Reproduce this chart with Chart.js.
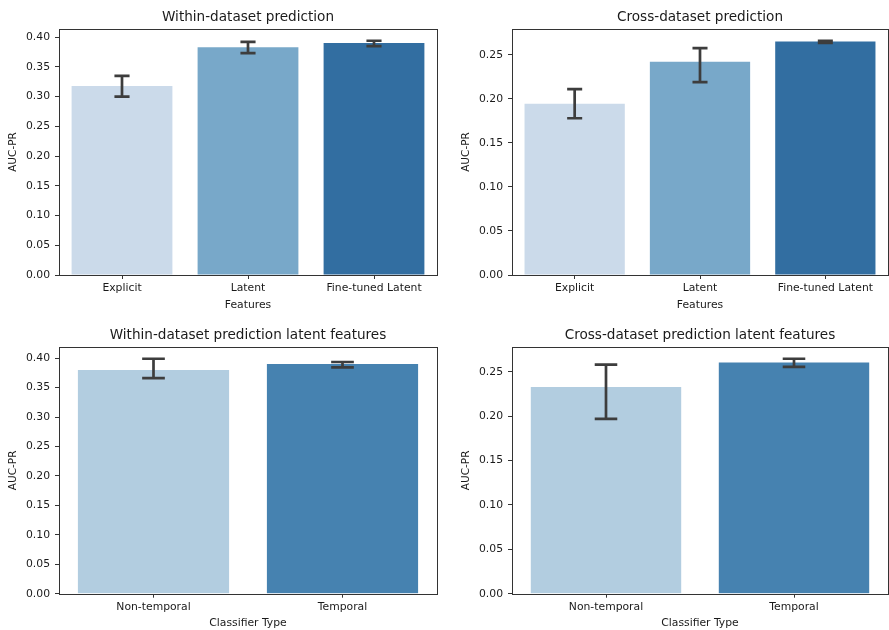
<!DOCTYPE html>
<html>
<head>
<meta charset="utf-8">
<script src="https://cdn.jsdelivr.net/npm/chart.js@4.4.1/dist/chart.umd.min.js"></script>
<style>
  html, body { margin: 0; padding: 0; background: #fff; }
  body { width: 889px; height: 630px; position: relative; overflow: hidden; }
  canvas { position: absolute; }
</style>
</head>
<body>
<canvas id="c1" width="444" height="320" style="left:0;top:0"></canvas>
<canvas id="c2" width="444" height="320" style="left:445px;top:0"></canvas>
<canvas id="c3" width="444" height="310" style="left:0;top:320px"></canvas>
<canvas id="c4" width="444" height="310" style="left:445px;top:320px"></canvas>
<script>
// categories
const featureCats = ['Explicit', 'Latent', 'Fine-tuned Latent'];
const typeCats = ['Non-temporal', 'Temporal'];

// within-dataset prediction
const withinMean = [0.318, 0.383, 0.390];
const withinLow  = [0.300, 0.373, 0.385];
const withinHigh = [0.335, 0.392, 0.394];

// cross-dataset prediction
const crossMean = [0.1945, 0.242, 0.265];
const crossLow  = [0.178, 0.219, 0.2635];
const crossHigh = [0.211, 0.2575, 0.266];

// within-dataset prediction latent features
const withinLatMean = [0.380, 0.390];
const withinLatLow  = [0.366, 0.3845];
const withinLatHigh = [0.399, 0.3935];

// cross-dataset prediction latent features
const crossLatMean = [0.233, 0.2605];
const crossLatLow  = [0.197, 0.2555];
const crossLatHigh = [0.258, 0.2647];

const tickStep = 0.05;

const blues3 = ['#cbdaea', '#78a8c9', '#326ea1'];
const blues2 = ['#b2cde0', '#4682b0'];

const FONT = 'DejaVu Sans';
const INK = '#333';
const TEXT = '#1a1a1a';

// error bars drawn from each dataset's low/high arrays
const errorBars = {
  id: 'errorBars',
  afterDatasetsDraw(chart) {
    const ctx = chart.ctx;
    const y = chart.scales.y;
    chart.data.datasets.forEach((ds, di) => {
      const meta = chart.getDatasetMeta(di);
      meta.data.forEach((bar, i) => {
        const top = y.getPixelForValue(ds.errHigh[i]);
        const bot = y.getPixelForValue(ds.errLow[i]);
        const half = bar.width * 0.075;
        ctx.save();
        ctx.strokeStyle = '#3d3d3d';
        ctx.lineWidth = 2.7;
        ctx.lineCap = 'butt';
        ctx.beginPath();
        ctx.moveTo(bar.x, top); ctx.lineTo(bar.x, bot);
        ctx.moveTo(bar.x - half, top); ctx.lineTo(bar.x + half, top);
        ctx.moveTo(bar.x - half, bot); ctx.lineTo(bar.x + half, bot);
        ctx.stroke();
        ctx.restore();
      });
    });
  }
};

// axes box like matplotlib spines
const frame = {
  id: 'frame',
  afterDraw(chart) {
    const a = chart.chartArea;
    const ctx = chart.ctx;
    ctx.save();
    ctx.strokeStyle = INK;
    ctx.lineWidth = 1;
    ctx.strokeRect(Math.round(a.left) + 0.5, Math.round(a.top) + 0.5,
      Math.round(a.right - a.left), Math.round(a.bottom - a.top));
    ctx.restore();
  }
};

function makeChart(id, o) {
  const yMax = Math.max(...o.high) * 1.05;
  return new Chart(document.getElementById(id), {
    type: 'bar',
    data: {
      labels: o.labels,
      datasets: [{
        data: o.mean,
        errLow: o.low,
        errHigh: o.high,
        backgroundColor: o.colors,
        borderWidth: 0,
        barPercentage: 0.8,
        categoryPercentage: 1.0
      }]
    },
    options: {
      responsive: false,
      animation: false,
      devicePixelRatio: 1,
      layout: { padding: { left: 0, right: o.padRight, top: 0, bottom: 0 } },
      plugins: {
        legend: { display: false },
        tooltip: { enabled: false },
        title: {
          display: true,
          text: o.title,
          fullSize: false,
          color: TEXT,
          font: { family: FONT, size: 13.6, weight: 'normal', lineHeight: 1.2 },
          padding: { top: o.titlePadTop, bottom: o.titlePadBottom }
        }
      },
      scales: {
        x: {
          offset: true,
          grid: { display: true, drawOnChartArea: false, drawTicks: true, tickLength: 4, color: INK, offset: false },
          border: { display: false },
          ticks: { color: TEXT, padding: 3, maxRotation: 0, font: { family: FONT, size: 10.8 } },
          title: {
            display: true,
            text: o.xTitle,
            color: TEXT,
            font: { family: FONT, size: 10.8, lineHeight: 1.2 },
            padding: { top: 0, bottom: o.xTitlePad }
          },
          afterFit(s) { s.height = o.xHeight; }
        },
        y: {
          min: 0,
          max: yMax,
          grid: { display: true, drawOnChartArea: false, drawTicks: true, tickLength: 4, color: INK },
          border: { display: false },
          ticks: {
            stepSize: tickStep,
            includeBounds: false,
            color: TEXT,
            padding: 5,
            font: { family: FONT, size: 10.8 },
            callback: v => v.toFixed(2)
          },
          title: {
            display: true,
            text: 'AUC-PR',
            color: TEXT,
            font: { family: FONT, size: 10.5, lineHeight: 1.2 },
            padding: { top: o.yTitlePad, bottom: 0 }
          },
          afterFit(s) { s.width = o.yWidth; }
        }
      }
    },
    plugins: [errorBars, frame]
  });
}

makeChart('c1', {
  labels: featureCats, mean: withinMean, low: withinLow, high: withinHigh, colors: blues3,
  title: 'Within-dataset prediction', xTitle: 'Features',
  titlePadTop: 9.1, titlePadBottom: 3.6, xHeight: 45, xTitlePad: 8.5,
  yWidth: 59, yTitlePad: 6.7, padRight: 7
});

makeChart('c2', {
  labels: featureCats, mean: crossMean, low: crossLow, high: crossHigh, colors: blues3,
  title: 'Cross-dataset prediction', xTitle: 'Features',
  titlePadTop: 9.1, titlePadBottom: 3.6, xHeight: 45, xTitlePad: 8.5,
  yWidth: 67, yTitlePad: 14.7, padRight: 1
});

makeChart('c3', {
  labels: typeCats, mean: withinLatMean, low: withinLatLow, high: withinLatHigh, colors: blues2,
  title: 'Within-dataset prediction latent features', xTitle: 'Classifier Type',
  titlePadTop: 7.5, titlePadBottom: 3.2, xHeight: 36.3, xTitlePad: 0.2,
  yWidth: 59, yTitlePad: 6.7, padRight: 7
});

makeChart('c4', {
  labels: typeCats, mean: crossLatMean, low: crossLatLow, high: crossLatHigh, colors: blues2,
  title: 'Cross-dataset prediction latent features', xTitle: 'Classifier Type',
  titlePadTop: 7.5, titlePadBottom: 3.2, xHeight: 36.3, xTitlePad: 0.2,
  yWidth: 67, yTitlePad: 14.7, padRight: 1
});
</script>
</body>
</html>
